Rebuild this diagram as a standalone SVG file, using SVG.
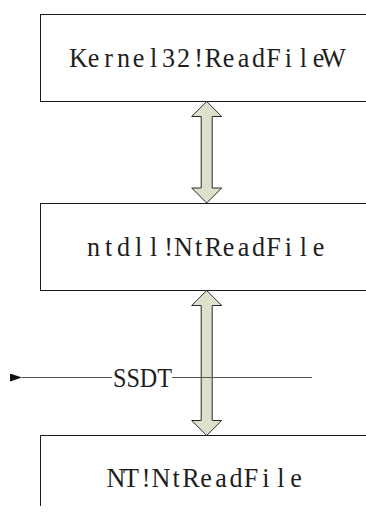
<svg xmlns="http://www.w3.org/2000/svg" width="366" height="516" viewBox="0 0 366 516">
  <defs>
    <style>
      .box { fill: #ffffff; stroke: #1a1a1a; stroke-width: 1; }
      .label { font-family: "Liberation Serif", "DejaVu Serif", serif; font-size: 27.5px; fill: #1e1e1e; text-anchor: middle; }
      .dbl { fill: #dde0cb; stroke: #2a2a2a; stroke-width: 1; stroke-linejoin: miter; }
      .ssdt-line { stroke: #555555; stroke-width: 1.2; fill: none; }
      .ssdt-label { font-family: "Liberation Serif", "DejaVu Serif", serif; font-size: 28px; fill: #1e1e1e; }
    </style>
    <marker id="arrowhead" markerWidth="12" markerHeight="8" refX="0" refY="4" orient="auto" markerUnits="userSpaceOnUse">
      <path d="M12,0 L0,4 L12,8 Z" fill="#111111"/>
    </marker>
  </defs>

  <rect width="366" height="516" fill="#ffffff"/>

  <!-- labels use a fixed character grid (15px cells), glyphs slightly condensed -->
  <g id="node-kernel32">
    <rect class="box" x="40.5" y="14.5" width="340" height="87"/>
    <g transform="translate(206,66.5) scale(0.95,1)">
      <text class="label" y="0" x="-134.21 -118.42 -102.63 -86.84 -71.05 -55.26 -39.47 -23.68 -7.89 7.89 23.68 39.47 55.26 71.05 86.84 102.63 118.42 134.21">Kernel32!ReadFileW</text>
    </g>
  </g>

  <g id="node-ntdll">
    <rect class="box" x="40.5" y="203.5" width="340" height="87"/>
    <g transform="translate(206,256) scale(0.95,1)">
      <text class="label" y="0" x="-118.42 -102.63 -86.84 -71.05 -55.26 -39.47 -23.68 -7.89 7.89 23.68 39.47 55.26 71.05 86.84 102.63 118.42">ntdll!NtReadFile</text>
    </g>
  </g>

  <g id="node-nt">
    <path class="box" d="M380,435.5 H40.5 V506" fill="none"/>
    <g transform="translate(206,487) scale(0.95,1)">
      <text class="label" y="0" x="-94.74 -78.95 -63.16 -47.37 -31.58 -15.79 0 15.79 31.58 47.37 63.16 78.95 94.74">NT!NtReadFile</text>
    </g>
  </g>

  <g id="connectors">
    <!-- Kernel32 <-> ntdll -->
    <path class="dbl" d="M206.7,101.5 L221.7,116.5 L212.2,116.5 L212.2,188 L221.7,188 L206.7,203 L191.7,188 L201.2,188 L201.2,116.5 L191.7,116.5 Z"/>
    <!-- ntdll <-> NT -->
    <path class="dbl" d="M206.7,290.5 L221.7,305.5 L212.2,305.5 L212.2,420.5 L221.7,420.5 L206.7,435.5 L191.7,420.5 L201.2,420.5 L201.2,305.5 L191.7,305.5 Z"/>
    <!-- SSDT dispatch line -->
    <line class="ssdt-line" x1="312" y1="377.5" x2="172" y2="377.5"/>
    <line class="ssdt-line" x1="112" y1="377.5" x2="22" y2="377.5" marker-end="url(#arrowhead)"/>
    <text class="ssdt-label" x="113" y="386.5" textLength="59" lengthAdjust="spacingAndGlyphs">SSDT</text>
  </g>
</svg>
